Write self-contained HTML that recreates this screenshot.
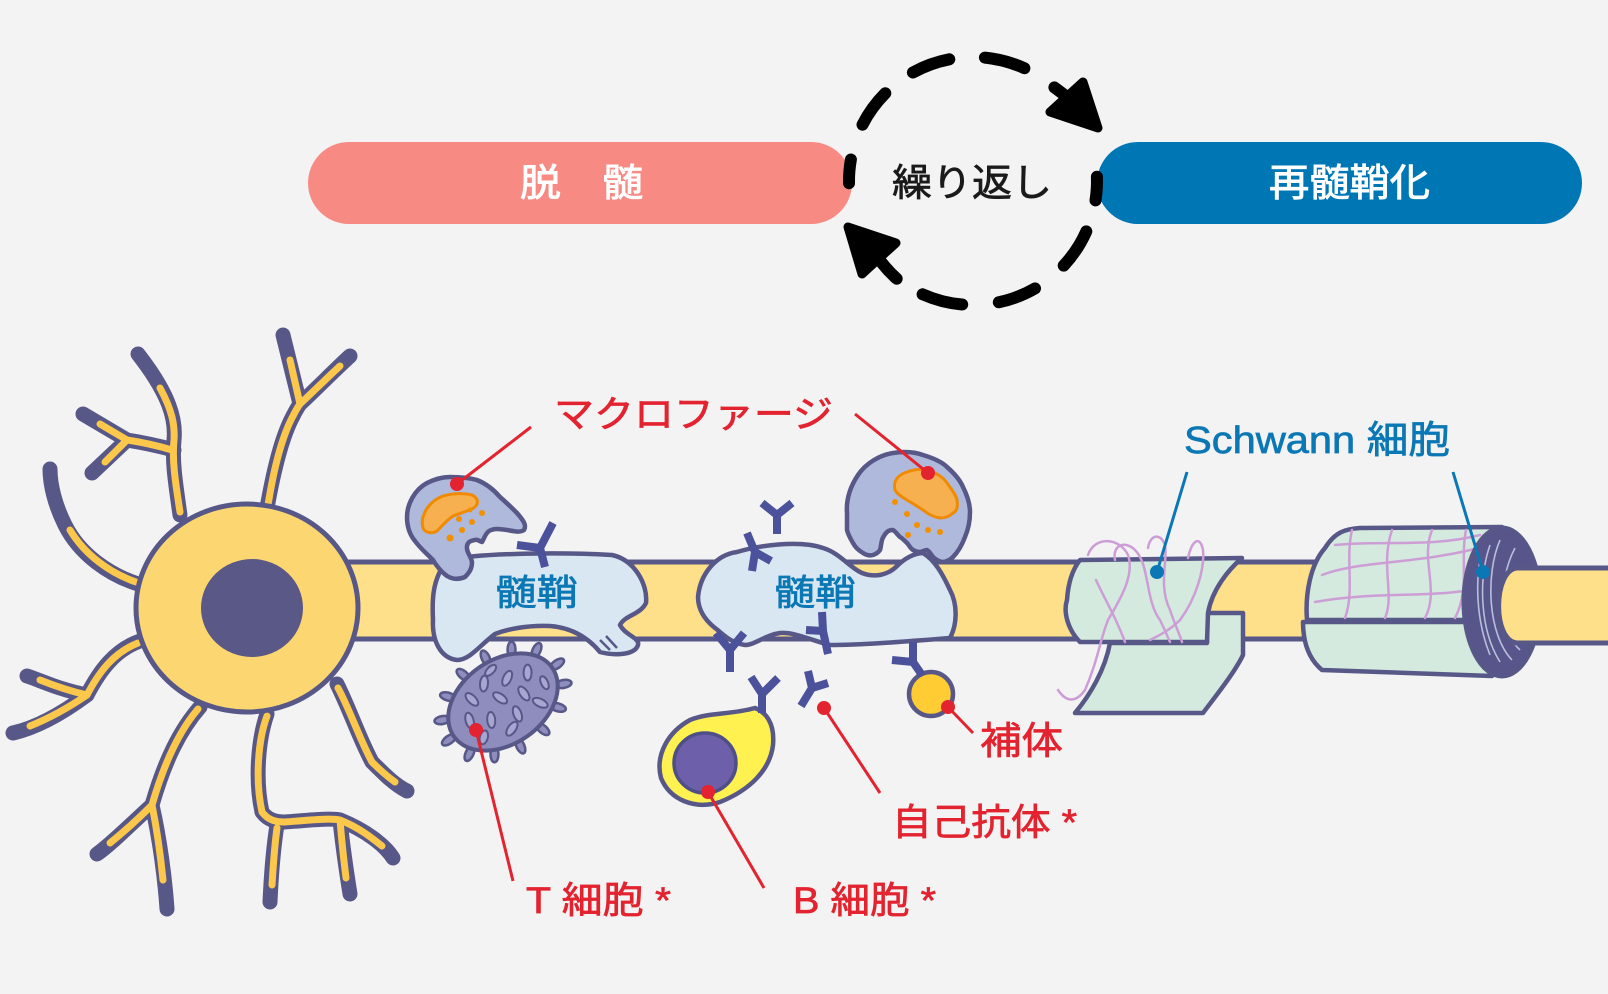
<!DOCTYPE html>
<html lang="ja">
<head>
<meta charset="utf-8">
<style>
  html,body{margin:0;padding:0;background:#F3F3F3;}
  svg{display:block;}
  text{font-family:"Liberation Sans","Noto Sans CJK JP",sans-serif;}
</style>
</head>
<body>
<svg width="1608" height="994" viewBox="0 0 1608 994" xmlns="http://www.w3.org/2000/svg">
  <rect x="0" y="0" width="1608" height="994" fill="#F3F3F3"/>

  <!-- Pills -->
  <rect x="308" y="142" width="544" height="82" rx="41" fill="#F78B84"/>
  <rect x="1097" y="142" width="485" height="82" rx="41" fill="#0077B5"/>
  <text x="520" y="196" font-size="38" fill="#FFFFFF" stroke="#FFFFFF" stroke-width="0.9" textLength="123" lengthAdjust="spacingAndGlyphs">脱　髄</text>
  <text x="1269" y="196" font-size="38" fill="#FFFFFF" stroke="#FFFFFF" stroke-width="0.9" textLength="161" lengthAdjust="spacingAndGlyphs">再髄鞘化</text>

  <!-- Dashed cycle -->
  <g fill="none" stroke="#000" stroke-width="12" stroke-linecap="round">
    <path d="M912.9,72.5 A124,124 0 0 1 949.3,59.3"/>
    <path d="M984.9,57.6 A124,124 0 0 1 1024.4,68.2"/>
    <path d="M1054.4,87.4 A124,124 0 0 1 1070,100"/>
    <path d="M1096.9,176.7 A124,124 0 0 1 1095.5,200.4"/>
    <path d="M1086.3,231.4 A124,124 0 0 1 1063.7,265.6"/>
    <path d="M1035,288.4 A124,124 0 0 1 998.8,302.3"/>
    <path d="M962.2,304.5 A124,124 0 0 1 922.6,294.3"/>
    <path d="M896.7,278.7 A124,124 0 0 1 882,263"/>
    <path d="M849,183.2 A124,124 0 0 1 850.9,159.5"/>
    <path d="M862.5,124.7 A124,124 0 0 1 885.3,93.3"/>
  </g>
  <polygon points="1050,112 1083,82 1098,128" fill="#000" stroke="#000" stroke-width="9" stroke-linejoin="round"/>
  <polygon points="848,227 896,243 862,274" fill="#000" stroke="#000" stroke-width="9" stroke-linejoin="round"/>
  <text x="892" y="196" font-size="38" fill="#1A1A1A" stroke="#1A1A1A" stroke-width="0.7" textLength="160" lengthAdjust="spacingAndGlyphs">繰り返し</text>

  <!-- Dendrites -->
  <g fill="none" stroke="#585888" stroke-width="15" stroke-linecap="round" stroke-linejoin="round">
    <path d="M180,515 C175,480 172,460 174,440 C176,420 170,395 138,354"/>
    <path d="M174,450 C155,445 140,442 127,440 L83,414 M127,440 L92,473"/>
    <path d="M138,584 C110,575 80,555 65,525 C55,505 50,485 50,469"/>
    <path d="M140,641 C115,650 100,670 87,695 C60,690 40,680 27,676 M87,695 C60,715 35,728 13,733"/>
    <path d="M200,707 C180,730 165,760 152,805 C130,825 110,845 97,854 M152,805 C160,840 165,880 167,909"/>
    <path d="M267,714 C258,740 255,780 262,812 C268,820 275,822 285,822 C310,820 330,818 340,820 C365,830 385,845 393,858 M340,820 C343,850 347,875 350,894 M277,825 C273,850 271,880 270,902"/>
    <path d="M337,684 C350,710 360,740 372,762 C385,775 395,785 407,791"/>
    <path d="M267,508 C272,480 280,440 293,416 C297,408 300,404 300,404 L283,335 M300,404 C320,385 340,365 350,356"/>
  </g>
  <g fill="none" stroke="#FBC84B" stroke-width="7" stroke-linecap="round" stroke-linejoin="round">
    <path d="M180,512 C175,480 172,460 174,440 C175,425 172,410 160,388"/>
    <path d="M172,450 C155,445 140,442 127,440 L100,424 M127,440 L105,462"/>
    <path d="M136,582 C110,573 85,555 70,530"/>
    <path d="M138,643 C115,652 100,670 87,695 C65,690 50,684 40,680 M87,695 C65,710 45,720 30,726"/>
    <path d="M198,709 C180,730 165,760 152,805 C135,822 120,835 110,843 M152,805 C158,835 161,860 163,880"/>
    <path d="M267,716 C258,740 255,780 262,812 C268,820 275,822 285,822 C310,820 330,818 340,820 C360,828 372,838 382,846 M340,820 C342,845 344,862 346,878 M277,828 C274,850 273,870 272,885"/>
    <path d="M338,688 C350,710 360,740 372,762 C380,770 388,777 395,782"/>
    <path d="M268,505 C272,480 280,440 293,416 C297,408 300,404 300,404 L290,360 M300,404 C315,390 330,375 340,366"/>
  </g>

  <!-- Axon main -->
  <rect x="330" y="562" width="1160" height="77" fill="#FEDF8A" stroke="#585888" stroke-width="5"/>

  <!-- Neuron body -->
  <ellipse cx="247" cy="608" rx="111" ry="104" fill="#FCD670" stroke="#585888" stroke-width="5"/>
  <ellipse cx="252" cy="608" rx="51" ry="49" fill="#5A5886"/>

  <!-- Myelin 1 -->
  <path d="M447,560 C480,553 560,552 612,555 C635,560 648,585 646,603 C640,615 625,615 620,625 C625,635 640,638 638,645 C635,655 615,656 600,652 C590,640 575,628 550,626 C525,625 505,630 495,634 C480,645 470,660 457,660 C440,658 432,640 433,620 C432,600 432,580 447,560 Z" fill="#D9E7F3" stroke="#585888" stroke-width="4.5" stroke-linejoin="round"/>
  <path d="M600,640 L610,650 M606,636 L617,648" stroke="#585888" stroke-width="2.5" fill="none"/>

  <!-- Myelin 2 -->
  <path d="M698,597 C700,575 715,555 737,552 C760,545 800,540 823,548 C840,553 850,568 862,573 C875,578 888,575 897,566 C905,558 915,553 923,553 C935,560 943,575 950,590 C958,605 957,625 950,638 C900,642 860,645 830,645 C810,640 795,632 780,633 C765,635 755,645 745,645 C730,643 722,633 715,628 C705,620 698,610 698,597 Z" fill="#D9E7F3" stroke="#585888" stroke-width="4.5" stroke-linejoin="round"/>

  <!-- Schwann cell 1 -->
  <path d="M1110,643 L1207,643 L1207,613 L1243,613 L1243,655 C1235,672 1215,697 1203,713 L1075,713 C1090,695 1105,670 1110,643 Z" fill="#D4EADF" stroke="#585888" stroke-width="4.5" stroke-linejoin="round"/>
  <path d="M1080,560 L1242,558 C1228,570 1212,590 1208,613 L1207,642 L1080,642 C1068,630 1063,612 1067,600 C1068,585 1072,570 1080,560 Z" fill="#D4EADF" stroke="#585888" stroke-width="4.5" stroke-linejoin="round"/>
  <g fill="none" stroke="#CD9ED6" stroke-width="2.5" stroke-linecap="round">
    <path d="M1088,555 C1095,535 1120,538 1128,555 C1135,575 1120,600 1108,620 C1100,640 1098,660 1085,690 C1078,700 1068,705 1058,690"/>
    <path d="M1115,560 C1112,545 1125,540 1135,550 C1150,565 1145,600 1160,620 C1165,630 1168,638 1170,642"/>
    <path d="M1148,548 C1150,535 1160,532 1165,545 C1168,560 1158,585 1170,610 C1175,625 1180,635 1182,642"/>
    <path d="M1188,558 C1192,540 1200,535 1203,550 C1205,570 1195,600 1180,620 C1170,630 1160,635 1150,640"/>
    <path d="M1096,580 C1105,600 1115,615 1125,642"/>
  </g>

  <!-- Schwann cell 2 -->
  <path d="M1303,622 L1490,622 L1492,676 L1322,670 C1310,660 1303,645 1303,622 Z" fill="#D4EADF" stroke="#585888" stroke-width="4.5" stroke-linejoin="round"/>
  <path d="M1325,548 C1335,532 1345,529 1360,528 L1502,527 L1502,620 L1307,620 C1305,595 1310,565 1325,548 Z" fill="#D4EADF" stroke="#585888" stroke-width="4.5" stroke-linejoin="round"/>
  <g fill="none" stroke="#CD9ED6" stroke-width="2.5" stroke-linecap="round">
    <path d="M1322,575 C1360,560 1420,565 1490,545"/>
    <path d="M1315,602 C1380,590 1440,600 1495,585"/>
    <path d="M1335,545 C1380,540 1430,548 1480,535"/>
    <path d="M1352,530 C1345,560 1355,590 1345,618"/>
    <path d="M1392,530 C1380,565 1395,595 1385,618"/>
    <path d="M1432,530 C1420,560 1440,590 1425,618"/>
    <path d="M1466,530 C1460,560 1470,590 1455,618"/>
    <path d="M1495,535 C1470,560 1480,590 1470,615"/>
  </g>
  <ellipse cx="1502" cy="602" rx="39" ry="75" fill="#57558A" stroke="#585888" stroke-width="3"/>
  <g fill="none" stroke="#B9BEDA" stroke-width="1.6">
    <path d="M1480,560 C1475,590 1478,625 1490,655"/>
    <path d="M1490,545 C1478,580 1480,630 1500,662"/>
    <path d="M1500,540 C1485,575 1488,635 1512,660"/>
    <path d="M1515,548 C1498,580 1498,630 1520,650"/>
  </g>
  <!-- Axon end -->
  <path d="M1612,568 L1517,568 C1493,570 1492,641 1517,643 L1612,643" fill="#FEDF8A" stroke="#585888" stroke-width="5"/>

  <!-- Macrophage 1 -->
  <path d="M407,517 C407,505 414,490 427,483 C437,478 445,477 450,477 C460,477 470,478 477,480 C487,484 494,490 500,497 C508,504 514,510 517,513 C523,520 527,525 524,530 C520,533 513,531 507,530 C500,529 494,528 489,531 C485,534 484,539 482,542 C479,541 477,539 475,540 C471,541 468,541 467,546 C466,552 471,556 472,562 C472,568 470,572 465,577 C458,580 452,579 447,576 C440,571 436,565 433,560 C427,554 420,548 415,541 C410,535 407,527 407,517 Z" fill="#AEB9DC" stroke="#585888" stroke-width="4.5" stroke-linejoin="round"/>
  <path d="M423,517 C426,507 433,500 443,496 C453,493 465,493 472,495 C478,498 479,503 475,507 C470,511 460,513 453,516 C447,520 443,525 437,531 C432,534 425,533 423,528 C422,524 422,520 423,517 Z" fill="#F6B04F" stroke="#F08A00" stroke-width="3"/>
  <g fill="#F29000">
    <circle cx="482" cy="513" r="3"/><circle cx="472" cy="522" r="3"/><circle cx="462" cy="530" r="3"/><circle cx="459" cy="519" r="3"/><circle cx="450" cy="538" r="3.5"/><circle cx="470" cy="510" r="2.5"/>
  </g>

  <!-- Macrophage 2 -->
  <path d="M847,513 C846,500 850,487 858,475 C866,463 880,455 893,453 C905,451 915,452 923,455 C933,458 942,462 947,467 C955,474 960,480 963,487 C968,497 970,505 970,512 C970,522 968,530 965,537 C962,545 958,552 953,557 C949,561 945,562 942,562 C938,561 935,559 933,557 C930,553 929,551 927,550 C924,550 922,552 920,552 C917,552 915,551 913,550 C910,548 909,545 907,543 C904,540 902,538 900,537 C897,534 895,531 893,530 C890,530 888,531 887,532 C884,535 883,537 882,540 C881,544 881,547 880,550 C878,553 876,554 873,555 C869,556 866,555 863,553 C858,550 855,547 853,543 C850,538 848,534 847,530 C847,524 847,518 847,513 Z" fill="#AEB9DC" stroke="#585888" stroke-width="4.5" stroke-linejoin="round"/>
  <path d="M895,490 C893,482 897,475 907,472 C915,469 922,469 927,470 C937,473 943,477 947,483 C952,490 956,495 957,500 C958,507 957,511 953,513 C949,517 945,518 940,518 C933,517 928,514 923,510 C917,506 912,503 907,500 C902,497 897,494 895,490 Z" fill="#F6B04F" stroke="#F08A00" stroke-width="3"/>
  <g fill="#F29000">
    <circle cx="895" cy="502" r="3"/><circle cx="907" cy="514" r="3"/><circle cx="917" cy="525" r="3"/><circle cx="928" cy="530" r="3"/><circle cx="940" cy="532" r="3"/><circle cx="908" cy="535" r="3"/>
  </g>

  <!-- T cell -->
  <g transform="translate(503,702) rotate(-35)">
    <g fill="#8F8CBE" stroke="#585888" stroke-width="2.5">
      <ellipse transform="translate(66,0) rotate(0)" rx="8" ry="4"/>
      <ellipse transform="translate(60,20) rotate(25)" rx="8" ry="4"/>
      <ellipse transform="translate(42,36) rotate(50)" rx="8" ry="4"/>
      <ellipse transform="translate(17,45) rotate(75)" rx="8" ry="4"/>
      <ellipse transform="translate(-11,46) rotate(100)" rx="8" ry="4"/>
      <ellipse transform="translate(-37,38) rotate(125)" rx="8" ry="4"/>
      <ellipse transform="translate(-57,23) rotate(150)" rx="8" ry="4"/>
      <ellipse transform="translate(-66,0) rotate(180)" rx="8" ry="4"/>
      <ellipse transform="translate(-60,-20) rotate(205)" rx="8" ry="4"/>
      <ellipse transform="translate(-42,-36) rotate(230)" rx="8" ry="4"/>
      <ellipse transform="translate(-17,-45) rotate(255)" rx="8" ry="4"/>
      <ellipse transform="translate(11,-46) rotate(280)" rx="8" ry="4"/>
      <ellipse transform="translate(37,-38) rotate(305)" rx="8" ry="4"/>
      <ellipse transform="translate(57,-23) rotate(330)" rx="8" ry="4"/>
    </g>
    <ellipse rx="60" ry="42" fill="#8F8CBE" stroke="#585888" stroke-width="4"/>
    <g fill="#A8A5D2" stroke="#585888" stroke-width="2">
      <ellipse transform="translate(-38,-4) rotate(20)" rx="4" ry="8"/>
      <ellipse transform="translate(-24,-20) rotate(-10)" rx="4" ry="8"/>
      <ellipse transform="translate(-20,8) rotate(30)" rx="4" ry="8"/>
      <ellipse transform="translate(-5,-26) rotate(40)" rx="4" ry="8"/>
      <ellipse transform="translate(0,-5) rotate(-20)" rx="4" ry="8"/>
      <ellipse transform="translate(5,18) rotate(15)" rx="4" ry="8"/>
      <ellipse transform="translate(17,-17) rotate(60)" rx="4" ry="8"/>
      <ellipse transform="translate(22,5) rotate(0)" rx="4" ry="8"/>
      <ellipse transform="translate(37,-10) rotate(35)" rx="4" ry="8"/>
      <ellipse transform="translate(-8,27) rotate(70)" rx="4" ry="8"/>
      <ellipse transform="translate(30,22) rotate(-30)" rx="4" ry="8"/>
      <ellipse transform="translate(-36,18) rotate(50)" rx="4" ry="7"/>
      <ellipse transform="translate(45,8) rotate(10)" rx="3.5" ry="7"/>
      <ellipse transform="translate(8,-33) rotate(80)" rx="3.5" ry="7"/>
    </g>
  </g>

  <!-- B cell -->
  <path d="M755,708 C765,712 775,722 773,745 C770,770 750,790 720,802 C695,810 670,800 661,778 C655,755 668,732 690,720 C710,712 730,715 755,708 Z" fill="#FFF150" stroke="#585888" stroke-width="4.5"/>
  <ellipse cx="705" cy="763" rx="31" ry="30" fill="#6D5FA9" stroke="#4E4F86" stroke-width="3.5"/>

  <!-- Complement -->
  <circle cx="931" cy="694" r="22" fill="#FFCC33" stroke="#585888" stroke-width="4.5"/>

  <!-- Antibodies -->
  <g fill="none" stroke="#4B519A" stroke-width="8" stroke-linecap="butt" stroke-linejoin="miter">
    <path d="M545,567 L540,548 L553,523 M540,548 L517,545"/>
    <path d="M777,534 L777,515 L762,503 M777,515 L792,503"/>
    <path d="M752,571 L755,552 L747,533 M755,552 L771,561"/>
    <path d="M730,672 L730,650 L716,633 M730,650 L744,633"/>
    <path d="M828,654 L823,631 L822,612 M823,631 L806,630"/>
    <path d="M762,713 L762,694 L751,677 M762,694 L778,678"/>
    <path d="M801,706 L812,688 L808,671 M812,688 L828,683"/>
    <path d="M913,642 L913,662 L892,660 M913,662 L922,675"/>
  </g>

  <!-- Red leader lines -->
  <g stroke="#E3232F" stroke-width="3" fill="none">
    <line x1="457" y1="484" x2="531" y2="427"/>
    <line x1="928" y1="473" x2="855" y2="414"/>
    <line x1="476" y1="730" x2="513" y2="881"/>
    <line x1="708" y1="792" x2="764" y2="888"/>
    <line x1="824" y1="708" x2="880" y2="793"/>
    <line x1="948" y1="707" x2="973" y2="733"/>
  </g>
  <g fill="#E3232F">
    <circle cx="457" cy="484" r="7"/>
    <circle cx="928" cy="473" r="7"/>
    <circle cx="476" cy="730" r="7"/>
    <circle cx="708" cy="792" r="7"/>
    <circle cx="824" cy="708" r="7"/>
    <circle cx="948" cy="707" r="7"/>
  </g>

  <!-- Blue leader lines -->
  <g stroke="#0B78B5" stroke-width="3" fill="none">
    <line x1="1187" y1="472" x2="1157" y2="572"/>
    <line x1="1453" y1="472" x2="1483" y2="572"/>
  </g>
  <g fill="#0B78B5">
    <circle cx="1157" cy="572" r="7"/>
    <circle cx="1483" cy="572" r="7"/>
  </g>

  <!-- Labels -->
  <g stroke-width="0.7">
  <text x="554" y="427" font-size="37" fill="#E3232F" stroke="#E3232F" textLength="279" lengthAdjust="spacingAndGlyphs">マクロファージ</text>
  <text x="495" y="605" font-size="36" fill="#0B78B5" stroke="#0B78B5" textLength="83" lengthAdjust="spacingAndGlyphs">髄鞘</text>
  <text x="774" y="605" font-size="36" fill="#0B78B5" stroke="#0B78B5" textLength="82" lengthAdjust="spacingAndGlyphs">髄鞘</text>
  <text x="1184" y="453" font-size="38" fill="#0B78B5" stroke="#0B78B5" textLength="266" lengthAdjust="spacingAndGlyphs">Schwann 細胞</text>
  <text x="980" y="754" font-size="38" fill="#E3232F" stroke="#E3232F" textLength="83" lengthAdjust="spacingAndGlyphs">補体</text>
  <text x="892" y="835" font-size="37" fill="#E3232F" stroke="#E3232F" textLength="185" lengthAdjust="spacingAndGlyphs">自己抗体 *</text>
  <text x="526" y="913" font-size="37" fill="#E3232F" stroke="#E3232F" textLength="145" lengthAdjust="spacingAndGlyphs">T 細胞 *</text>
  <text x="793" y="913" font-size="37" fill="#E3232F" stroke="#E3232F" textLength="143" lengthAdjust="spacingAndGlyphs">B 細胞 *</text>
  </g>
</svg>
</body>
</html>
